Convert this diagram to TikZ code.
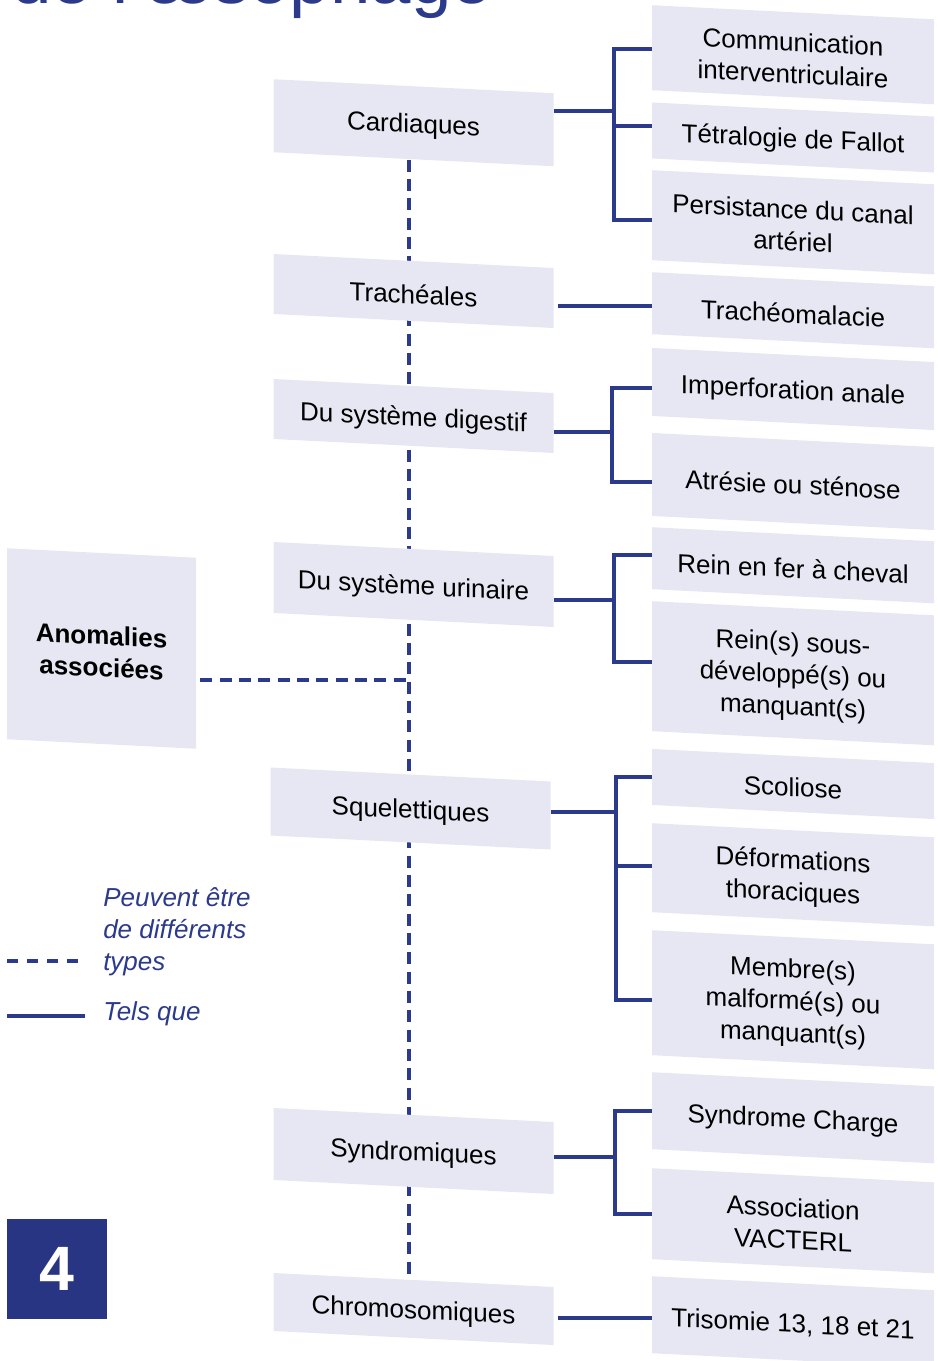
\documentclass[tikz,border=0pt]{standalone}
\usepackage{fontspec}
\setmainfont{Liberation Sans}
\usetikzlibrary{backgrounds}
\definecolor{navy}{HTML}{2C3A8C}
\definecolor{boxfill}{HTML}{E7E7F3}
\definecolor{numfill}{HTML}{283583}
\newcommand{\bx}[5]{%
  \node[#1, bh=#2] (#3) at #4 {};
  \node[boxtext] (#3t) at ([yshift=-2.4pt]#3.center) {#5};}
\begin{document}
\begin{tikzpicture}[x=0.75pt,y=-0.75pt,
  box/.style={fill=boxfill, inner sep=0pt, yslant=-0.05},
  boxtext/.style={inner sep=0pt, align=center, text=black, yslant=-0.05,
    font=\fontsize{19.5pt}{24pt}\selectfont},
  lbox/.style={box, minimum width=210pt},
  rbox/.style={box, minimum width=211.5pt},
  bh/.style={minimum height=#1*0.75pt},
  link/.style={draw=navy, line width=2.3pt},
  dashlink/.style={draw=navy, line width=2.3pt, dash pattern=on 9pt off 5.5pt},
  legtext/.style={anchor=west, align=left, text=navy, inner sep=0pt,
    font=\itshape\fontsize{19.5pt}{24pt}\selectfont},
]
\useasboundingbox (0,0) rectangle (938,1361);

% title (cut off)
\node[anchor=base west, text=navy, inner sep=0pt,
  font=\fontsize{54.5pt}{54.5pt}\selectfont] (title) at (11,3) {de l’œsophage};

% root
\node[box, minimum width=141.75pt, bh=191] (anom) at (101.5,648.5) {};
\node[boxtext, font=\bfseries\fontsize{19.5pt}{24pt}\selectfont] (anomt)
  at ([yshift=-2.2pt]anom.center) {Anomalies\\associées};

% categories
\bx{lbox}{73}{card}{(413.5,122.75)}{Cardiaques}
\bx{lbox}{60}{trach}{(413.5,291)}{Trachéales}
\bx{lbox}{60}{dig}{(413.5,416)}{Du système digestif}
\bx{lbox}{71}{urin}{(413.5,584.5)}{Du système urinaire}
\bx{lbox}{68}{squel}{(410.5,808.5)}{Squelettiques}
\bx{lbox}{72}{synd}{(413.5,1151)}{Syndromiques}
\bx{lbox}{58}{chrom}{(413.5,1309)}{Chromosomiques}

% examples
\bx{rbox}{85}{comm}{(793,54.75)}{Communication\\interventriculaire}
\bx{rbox}{56}{tetra}{(793,137.5)}{Tétralogie de Fallot}
\bx{rbox}{90}{pers}{(793,222.25)}{Persistance du canal\\artériel}
\bx{rbox}{62}{trmal}{(793,310.25)}{Trachéomalacie}
\bx{rbox}{68}{impf}{(793,389)}{Imperforation anale}
\bx{rbox}{83}{atres}{(793,481.5)}{Atrésie ou sténose}
\bx{rbox}{62}{rein1}{(793,565.25)}{Rein en fer à cheval}
\bx{rbox}{130}{rein2}{(793,673.25)}{Rein(s) sous-\\développé(s) ou\\manquant(s)}
\bx{rbox}{56}{scol}{(793,784)}{Scoliose}
\bx{rbox}{89}{deform}{(793,874.75)}{Déformations\\thoraciques}
\bx{rbox}{125}{membre}{(793,999.75)}{Membre(s)\\malformé(s) ou\\manquant(s)}
\bx{rbox}{77}{charge}{(793,1117.75)}{Syndrome Charge}
\bx{rbox}{91}{vact}{(793,1220.75)}{Association\\VACTERL}
\bx{rbox}{77}{triso}{(793,1321.75)}{Trisomie 13, 18 et 21}

% dashed trunk (behind boxes)
\coordinate (trunk) at (409,0);
\begin{pgfonlayer}{background}
  \draw[dashlink] (card.south -| trunk) -- (chrom.north -| trunk);
  \draw[dashlink] ([xshift=3pt]anom.east |- 0,680) -- (trunk |- 0,680);
\end{pgfonlayer}

% brackets
\coordinate (b1) at (614,111);
\draw[link] (card.east |- b1) -- (b1);
\draw[link] (comm.west |- 0,49) -| (b1 |- 0,220) -- (pers.west |- 0,220);
\draw[link] (b1 |- 0,126) -- (tetra.west |- 0,126);

\draw[link, shorten <=3pt] (trach.east |- 0,306) -- (trmal.west |- 0,306);

\coordinate (b3) at (612,432);
\draw[link] (dig.east |- b3) -- (b3);
\draw[link] (impf.west |- 0,388) -| (b3 |- 0,482) -- (atres.west |- 0,482);

\coordinate (b4) at (614,600);
\draw[link] (urin.east |- b4) -- (b4);
\draw[link] (rein1.west |- 0,555) -| (b4 |- 0,662) -- (rein2.west |- 0,662);

\coordinate (b5) at (616,812);
\draw[link] (squel.east |- b5) -- (b5);
\draw[link] (scol.west |- 0,777) -| (b5 |- 0,1000) -- (membre.west |- 0,1000);
\draw[link] (b5 |- 0,866) -- (deform.west |- 0,866);

\coordinate (b6) at (615,1157);
\draw[link] (synd.east |- b6) -- (b6);
\draw[link] (charge.west |- 0,1111) -| (b6 |- 0,1214) -- (vact.west |- 0,1214);

\draw[link, shorten <=3pt] (chrom.east |- 0,1318) -- (triso.west |- 0,1318);

% legend
\coordinate (la) at (7,961);
\coordinate (lb) at (84,961);
\coordinate (lc) at (7,1016);
\coordinate (ld) at (85,1016);
\draw[navy, line width=2.3pt, dash pattern=on 8.25pt off 6.75pt] (la) -- (lb);
\draw[link] (lc) -- (ld);
\node[legtext] (leg1) at (103,932) {Peuvent être\\de différents\\types};
\node[legtext] (leg2) at (103,1014) {Tels que};

% page number
\node[fill=numfill, minimum size=75pt, inner sep=0pt, text=white,
  font=\bfseries\fontsize{47pt}{47pt}\selectfont] (num) at (57,1269) {4};
\end{tikzpicture}
\end{document}
